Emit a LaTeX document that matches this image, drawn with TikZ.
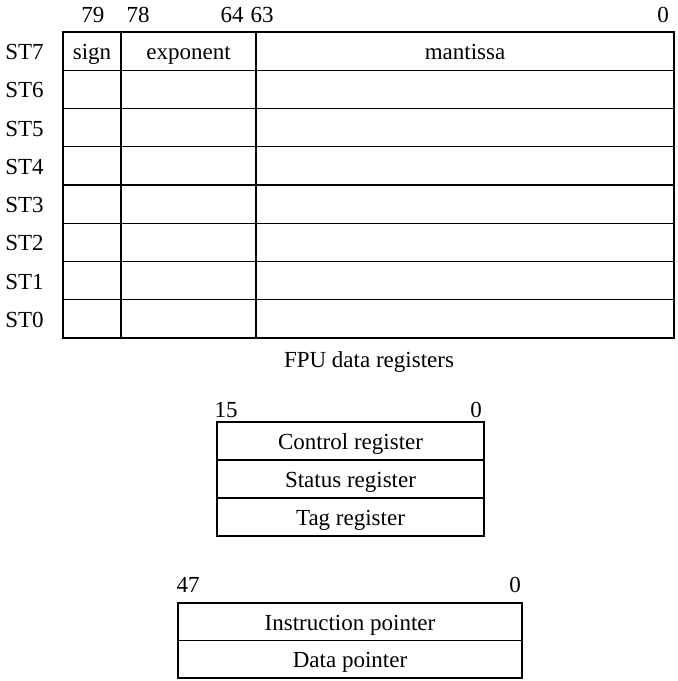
\documentclass[tikz,border=0pt]{standalone}
\usepackage{fontspec}
\setmainfont{Liberation Serif}
\usetikzlibrary{positioning}
\newcommand{\regfont}{\fontsize{11.5}{13.5}\selectfont}
\tikzset{
  cell/.style={
    draw=black,
    line width=0.6pt,
    inner sep=0pt,
    outer sep=0pt,
    text height=1.08em,
    text depth=0.22em,
    font=\regfont
  },
  stcell/.style={cell, minimum height=19.125pt},
  ctlcell/.style={cell, minimum width=133.5pt, minimum height=19pt},
  ptrcell/.style={cell, minimum width=172pt, minimum height=18.75pt},
  bitlabel/.style={
    inner sep=0pt,
    anchor=base,
    font=\regfont
  },
  rowlabel/.style={
    inner sep=0pt,
    anchor=west,
    text height=1.08em,
    text depth=0.22em,
    font=\regfont
  }
}

\begin{document}
\begin{tikzpicture}[x=0.5pt, y=-0.5pt]
\useasboundingbox (0,0) rectangle (678,681);

% FPU data register stack
\foreach \r in {7,...,0} {
  \node[stcell, minimum width=29pt, anchor=north west] (sign\r) at (63,{32+38.25*(7-\r)}) {\ifnum\r=7 sign\fi};
  \node[stcell, minimum width=67.5pt, right=0pt of sign\r] (exp\r) {\ifnum\r=7 exponent\fi};
  \node[stcell, minimum width=209pt, right=0pt of exp\r] (mant\r) {\ifnum\r=7 mantissa\fi};
  \node[rowlabel] (st\r) at (5,{32+38.25*(7-\r)+19.125}) {ST\r};
}

\node[bitlabel] (b79) at (93,22) {79};
\node[bitlabel] (b78) at (138,22) {78};
\node[bitlabel] (b64) at (232,22) {64};
\node[bitlabel] (b63) at (262,22) {63};
\node[bitlabel] (b0) at (663,22) {0};

\node[bitlabel] (caption) at (369,367) {FPU data registers};

% 16-bit registers
\node[ctlcell, anchor=north west] (control) at (217,422) {Control register};
\node[ctlcell, below=0pt of control] (status) {Status register};
\node[ctlcell, below=0pt of status] (tag) {Tag register};
\node[bitlabel] (c15) at (226,417) {15};
\node[bitlabel] (c0) at (476,417) {0};

% 48-bit pointers
\node[ptrcell, anchor=north west] (instr) at (178,603) {Instruction pointer};
\node[ptrcell, below=0pt of instr] (data) {Data pointer};
\node[bitlabel] (p47) at (188,592) {47};
\node[bitlabel] (p0) at (515,592) {0};
\end{tikzpicture}
\end{document}
